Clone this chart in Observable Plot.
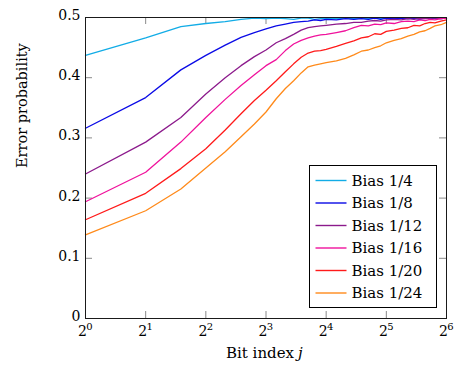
<!DOCTYPE html>
<html><head><meta charset="utf-8">
<script src="https://cdn.jsdelivr.net/npm/d3@7"></script>
<script src="https://cdn.jsdelivr.net/npm/@observablehq/plot@0.6"></script>
<style>body{margin:0;background:#fff}</style>
</head><body><div id="chart"></div>
<script>
const bitIndex = [1,2,3,4,5,6,7,8,9,10,11,12,13,14,15,16,18,20,22,24,26,28,30,32,35,38,41,44,47,50,53,56,60,64];
const bias4  = [0.437,0.466,0.485,0.490,0.493,0.497,0.499,0.498,0.499,0.498,0.497,0.499,0.499,0.497,0.498,0.499,0.498,0.499,0.498,0.499,0.498,0.499,0.498,0.499,0.498,0.499,0.498,0.499,0.498,0.499,0.499,0.498,0.499,0.499];
const bias8  = [0.316,0.367,0.413,0.437,0.454,0.467,0.475,0.481,0.486,0.489,0.492,0.493,0.494,0.496,0.495,0.497,0.496,0.498,0.497,0.498,0.497,0.499,0.497,0.499,0.498,0.499,0.498,0.499,0.497,0.499,0.498,0.499,0.498,0.499];
const bias12 = [0.240,0.293,0.334,0.373,0.400,0.420,0.435,0.446,0.458,0.465,0.472,0.479,0.483,0.485,0.486,0.487,0.489,0.490,0.492,0.492,0.494,0.495,0.494,0.496,0.497,0.496,0.498,0.497,0.499,0.498,0.499,0.499,0.498,0.499];
const bias16 = [0.194,0.243,0.293,0.334,0.364,0.387,0.405,0.420,0.430,0.445,0.456,0.462,0.466,0.469,0.471,0.472,0.475,0.478,0.483,0.487,0.486,0.489,0.488,0.491,0.490,0.493,0.494,0.493,0.496,0.495,0.497,0.496,0.498,0.499];
const bias20 = [0.164,0.208,0.249,0.282,0.313,0.340,0.362,0.379,0.395,0.410,0.423,0.434,0.441,0.444,0.445,0.447,0.452,0.457,0.461,0.466,0.468,0.473,0.472,0.477,0.479,0.482,0.483,0.487,0.486,0.490,0.492,0.491,0.494,0.496];
const bias24 = [0.139,0.179,0.215,0.250,0.277,0.302,0.323,0.343,0.365,0.382,0.395,0.408,0.418,0.421,0.423,0.425,0.428,0.432,0.438,0.444,0.446,0.450,0.453,0.458,0.462,0.465,0.469,0.472,0.476,0.478,0.482,0.486,0.488,0.492];

const seriesNames = ["Bias 1/4","Bias 1/8","Bias 1/12","Bias 1/16","Bias 1/20","Bias 1/24"];
const seriesColors = ["#12ace6","#0a0ae6","#8c1a8c","#f0129c","#ff1a1a","#ff8a1a"];
const seriesValues = [bias4,bias8,bias12,bias16,bias20,bias24];

const xTicks = [1,2,4,8,16,32,64];
const xTickExponents = ["0","1","2","3","4","5","6"];
const yTicks = [0,0.1,0.2,0.3,0.4,0.5];
const yTickLabels = ["0","0.1","0.2","0.3","0.4","0.5"];
const xLabel = "Bit index";
const xLabelVar = "j";
const yLabel = "Error probability";

const rows = [];
seriesValues.forEach((vals, s) => vals.forEach((v, i) => rows.push({j: bitIndex[i], p: v, series: seriesNames[s]})));

const W = 454, H = 366, mL = 85, mR = 8, mT = 17, mB = 48;
const plotW = W - mL - mR, plotH = H - mT - mB;
const tickLen = 7;
const font = "'DejaVu Serif', serif";

const chart = Plot.plot({
  width: W, height: H,
  marginLeft: mL, marginRight: mR, marginTop: mT, marginBottom: mB,
  style: {fontFamily: font, fontSize: "14px", background: "#fff", color: "#000", overflow: "visible"},
  x: {type: "log", base: 2, domain: [1, 64], axis: null},
  y: {domain: [0, 0.5], axis: null},
  color: {domain: seriesNames, range: seriesColors},
  marks: [
    Plot.tickX(xTicks, {x: d => d, insetTop: plotH - tickLen, stroke: "#8a8a8a", strokeWidth: 1}),
    Plot.tickX(xTicks, {x: d => d, insetBottom: plotH - tickLen, stroke: "#8a8a8a", strokeWidth: 1}),
    Plot.tickY(yTicks, {y: d => d, insetRight: plotW - tickLen, stroke: "#8a8a8a", strokeWidth: 1}),
    Plot.tickY(yTicks, {y: d => d, insetLeft: plotW - tickLen, stroke: "#8a8a8a", strokeWidth: 1}),
    Plot.lineY(rows, {x: "j", y: "p", z: "series", stroke: "series", strokeWidth: 1.3}),
    Plot.frame({stroke: "#1a1a1a", strokeWidth: 1}),
    Plot.text(yTicks, {y: d => d, frameAnchor: "left", text: (d, i) => yTickLabels[i], textAnchor: "end", dx: -5, dy: -2, fontSize: 14}),
    Plot.text(xTicks, {x: d => d, frameAnchor: "bottom", text: () => "2", dy: 17, dx: -3, fontSize: 14}),
    Plot.text(xTicks, {x: d => d, frameAnchor: "bottom", text: (d, i) => xTickExponents[i], dy: 11, dx: 4, fontSize: 10}),
    Plot.text([yLabel], {frameAnchor: "left", text: d => d, rotate: -90, dx: -63, fontSize: 14.5}),
    Plot.text([xLabel], {frameAnchor: "bottom", text: d => d, textAnchor: "end", dx: 28, dy: 39, fontSize: 15}),
    Plot.text([xLabelVar], {frameAnchor: "bottom", text: d => d, textAnchor: "start", dx: 32, dy: 39, fontSize: 15, fontStyle: "italic"})
  ]
});

// legend inside the plot (bottom right), built from the series arrays
const svg = d3.select(chart);
const lg = svg.append("g").attr("font-family", font).attr("font-size", 15).attr("text-anchor", "start");
const lx = 309.5, ly = 165.5, lw = 127, lh = 142, rowH = 22.5;
lg.append("rect").attr("x", lx).attr("y", ly).attr("width", lw).attr("height", lh)
  .attr("fill", "#fff").attr("stroke", "#000").attr("stroke-width", 1);
seriesNames.forEach((name, i) => {
  const cy = ly + 15 + i * rowH;
  lg.append("line").attr("x1", lx + 6).attr("x2", lx + 37).attr("y1", cy).attr("y2", cy)
    .attr("stroke", seriesColors[i]).attr("stroke-width", 1.4);
  lg.append("text").attr("x", lx + 42).attr("y", cy).attr("dy", "0.35em")
    .attr("text-anchor", "start").attr("fill", "#000").text(name);
});

document.getElementById("chart").appendChild(chart);
</script>
</body></html>
